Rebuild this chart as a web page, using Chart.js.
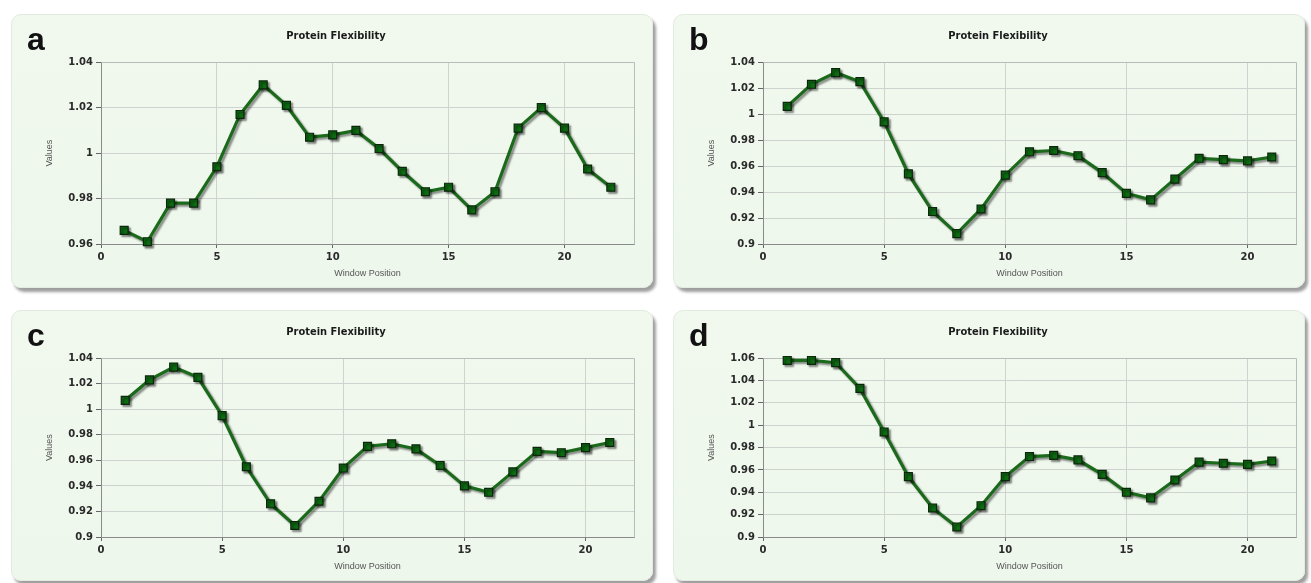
<!DOCTYPE html>
<html>
<head>
<meta charset="utf-8">
<script src="https://cdn.jsdelivr.net/npm/chart.js@4.4.1/dist/chart.umd.min.js"></script>
<style>
  html, body { margin: 0; padding: 0; background: #ffffff; }
  body { width: 1311px; height: 583px; position: relative; overflow: hidden; }
  .card {
    position: absolute;
    border-radius: 10px;
    background: linear-gradient(#f1f9ef, #eef7ec);
    border: 1px solid #e3ebe1;
    box-shadow: 3px 4px 3px rgba(0, 0, 0, 0.38);
    box-sizing: border-box;
  }
  .card .letter {
    position: absolute;
    left: 15px;
    top: 6px;
    font-family: "Liberation Sans", Arial, sans-serif;
    font-weight: bold;
    font-size: 32px;
    color: #111;
    z-index: 2;
  }
  .card .wrap { position: absolute; left: 0; top: 0; width: 100%; height: 100%; }
</style>
</head>
<body>
<div class="card" id="cardA" style="left:11px;top:14px;width:642px;height:274px;">
  <div class="letter">a</div><div class="wrap"><canvas id="chartA"></canvas></div>
</div>
<div class="card" id="cardB" style="left:673px;top:14px;width:632px;height:274px;">
  <div class="letter">b</div><div class="wrap"><canvas id="chartB"></canvas></div>
</div>
<div class="card" id="cardC" style="left:11px;top:310px;width:642px;height:271px;">
  <div class="letter">c</div><div class="wrap"><canvas id="chartC"></canvas></div>
</div>
<div class="card" id="cardD" style="left:673px;top:310px;width:632px;height:271px;">
  <div class="letter">d</div><div class="wrap"><canvas id="chartD"></canvas></div>
</div>

<script>
"use strict";

/* data */
var positionsA = [1, 2, 3, 4, 5, 6, 7, 8, 9, 10, 11, 12, 13, 14, 15, 16, 17, 18, 19, 20, 21, 22];
var valuesA = [0.966, 0.961, 0.978, 0.978, 0.994, 1.017, 1.030, 1.021, 1.007, 1.008, 1.010, 1.002,
               0.992, 0.983, 0.985, 0.975, 0.983, 1.011, 1.020, 1.011, 0.993, 0.985];

var positionsBCD = [1, 2, 3, 4, 5, 6, 7, 8, 9, 10, 11, 12, 13, 14, 15, 16, 17, 18, 19, 20, 21];
var valuesB = [1.006, 1.023, 1.032, 1.025, 0.994, 0.954, 0.925, 0.908, 0.927, 0.953, 0.971,
               0.972, 0.968, 0.955, 0.939, 0.934, 0.950, 0.966, 0.965, 0.964, 0.967];
var valuesC = [1.007, 1.023, 1.033, 1.025, 0.995, 0.955, 0.926, 0.909, 0.928, 0.954, 0.971,
               0.973, 0.969, 0.956, 0.940, 0.935, 0.951, 0.967, 0.966, 0.970, 0.974];
var valuesD = [1.058, 1.058, 1.056, 1.033, 0.994, 0.954, 0.926, 0.909, 0.928, 0.954, 0.972,
               0.973, 0.969, 0.956, 0.940, 0.935, 0.951, 0.967, 0.966, 0.965, 0.968];

var yTicksA = [0.96, 1.04, 0.02];
var yTicksBC = [0.9, 1.04, 0.02];
var yTicksD = [0.9, 1.06, 0.02];

var chartTitle = "Protein Flexibility";
var xTitle = "Window Position";
var yTitle = "Values";

/* frame around the plot area + soft shadow under the line */
var framePlugin = {
    id: "frameShadow",
    beforeDatasetsDraw: function (chart) {
        var a = chart.chartArea;
        var ctx = chart.ctx;
        ctx.save();
        ctx.strokeStyle = "#b9bdb9";
        ctx.lineWidth = 1;
        ctx.beginPath();
        ctx.moveTo(Math.round(a.left) + 0.5, Math.round(a.top) + 0.5);
        ctx.lineTo(Math.round(a.right) + 0.5, Math.round(a.top) + 0.5);
        ctx.lineTo(Math.round(a.right) + 0.5, Math.round(a.bottom) + 0.5);
        ctx.stroke();
        ctx.restore();
        ctx.save();
        ctx.shadowColor = "rgba(0, 0, 0, 0.45)";
        ctx.shadowOffsetX = 2;
        ctx.shadowOffsetY = 2;
        ctx.shadowBlur = 2;
    },
    afterDatasetsDraw: function (chart) {
        chart.ctx.restore();
    }
};

function makeChart(id, xs, ys, xMax, yRange, rightPad) {
    var pts = xs.map(function (x, i) { return { x: x, y: ys[i] }; });
    return new Chart(document.getElementById(id), {
        type: "line",
        data: {
            datasets: [
                {
                    data: pts,
                    borderColor: "#1b6a1b",
                    borderWidth: 3.2,
                    pointStyle: "rect",
                    pointRadius: 5.6,
                    pointHoverRadius: 5.6,
                    pointBackgroundColor: "#0d6b12",
                    pointBorderColor: "#0b260b",
                    pointBorderWidth: 1.2,
                    tension: 0,
                    clip: false,
                },
            ],
        },
        options: {
            responsive: true,
            maintainAspectRatio: false,
            animation: false,
            events: [],
            layout: {
                padding: { left: 26, right: rightPad, top: 0, bottom: 0 },
            },
            plugins: {
                legend: { display: false },
                tooltip: { enabled: false },
                title: {
                    display: true,
                    text: chartTitle,
                    color: "#1a1a1a",
                    font: { family: "'DejaVu Sans Condensed', 'DejaVu Sans', sans-serif", size: 11, weight: "bold" },
                    padding: { top: 15, bottom: 19 },
                },
            },
            scales: {
                x: {
                    type: "linear",
                    min: 0,
                    max: xMax,
                    afterFit: function (s) { s.height = 43; },
                    ticks: {
                        stepSize: 5,
                        includeBounds: false,
                        padding: 3,
                        maxRotation: 0,
                        color: "#2a2a2a",
                        font: { family: "'DejaVu Sans', sans-serif", size: 10, weight: "bold" },
                    },
                    grid: { color: "#cfd3cf", tickLength: 4, tickColor: "#666" },
                    border: { color: "#8a8a8a" },
                    title: {
                        display: true,
                        text: xTitle,
                        color: "#555",
                        font: { family: "'Liberation Sans', Arial, sans-serif", size: 9 },
                        padding: { top: 8, bottom: 8 },
                    },
                },
                y: {
                    min: yRange[0],
                    max: yRange[1],
                    afterFit: function (s) { s.width = 63; },
                    ticks: {
                        stepSize: yRange[2],
                        includeBounds: false,
                        padding: 3,
                        color: "#2a2a2a",
                        font: { family: "'DejaVu Sans', sans-serif", size: 10, weight: "bold" },
                        callback: function (v) { return String(+v.toFixed(2)); },
                    },
                    grid: { color: "#cfd3cf", tickLength: 5, tickColor: "#666" },
                    border: { color: "#8a8a8a" },
                    title: {
                        display: true,
                        text: yTitle,
                        color: "#555",
                        font: { family: "'Liberation Sans', Arial, sans-serif", size: 9 },
                        padding: { top: 6, bottom: 6 },
                    },
                },
            },
        },
        plugins: [framePlugin],
    });
}

makeChart("chartA", positionsA, valuesA, 23, yTicksA, 18);
makeChart("chartB", positionsBCD, valuesB, 22, yTicksBC, 8);
makeChart("chartC", positionsBCD, valuesC, 22, yTicksBC, 18);
makeChart("chartD", positionsBCD, valuesD, 22, yTicksD, 8);
</script>
</body>
</html>
